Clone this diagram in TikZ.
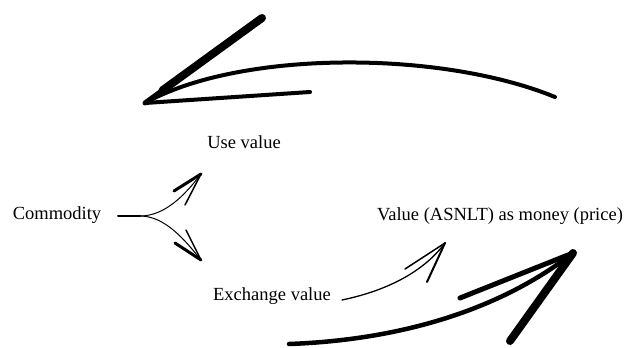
\documentclass[tikz,border=0pt]{standalone}
\usepackage{fontspec}
\setmainfont{Liberation Serif}
\usetikzlibrary{calc}
\begin{document}
\begin{tikzpicture}[x=1pt,y=-1pt,
  brush/.style={line cap=round,line join=round,draw=black},
  label/.style={font=\fontsize{18.5}{21}\selectfont,inner sep=0pt,anchor=center}]
\useasboundingbox (0,0) rectangle (630,348);

% text labels
\node[label] (com) at (57,215) {Commodity};
\node[label] (use) at (244,142) {Use value};
\node[label] (exc) at (272,296) {Exchange value};
\node[label] (val) at (500,216) {Value (ASNLT) as money (price)};

% big arrow on top, sweeping back to the left
\coordinate (topTail) at (555,97);
\coordinate (topTip) at (145,103);
\coordinate (topBarbA) at (262,18);
\coordinate (topBarbB) at (310,92);
\draw[brush,line width=4] (topTail) .. controls (440,50) and (240,50) .. (topTip);
\draw[brush,line width=8] ($(topTip)!0.15!(topBarbA)$) -- (topBarbA);
\draw[brush,line width=5] (topTip) -- ($(topTip)!0.3!(topBarbA)$);
\draw[brush,line width=4] (topTip) -- (topBarbB);

% fork from Commodity
\coordinate (forkStart) at (118,216);
\coordinate (fork) at (140,216);
\coordinate (upTip) at (201,174);
\coordinate (upBarbA) at (174,191);
\coordinate (upBarbB) at (185,205);
\coordinate (dnTip) at (201,260);
\coordinate (dnBarbA) at (175,243);
\coordinate (dnBarbB) at (186,230);
\draw[brush,line width=2] (forkStart) -- (fork);
\draw[brush,line width=1] (fork) .. controls (165,216) and (185,195) .. (upTip);
\draw[brush,line width=3] (upTip) -- (upBarbA);
\draw[brush,line width=1.5] (upTip) -- (upBarbB);
\draw[brush,line width=1] (fork) .. controls (165,216) and (185,240) .. (dnTip);
\draw[brush,line width=3] (dnTip) -- (dnBarbA);
\draw[brush,line width=1.5] (dnTip) -- (dnBarbB);

% small arrow from Exchange value
\coordinate (smTail) at (342,300);
\coordinate (smTip) at (445,243);
\coordinate (smBarbA) at (405,269);
\coordinate (smBarbB) at (427,282);
\draw[brush,line width=1.3] (smTail) .. controls (390,290) and (425,270) .. (smTip);
\draw[brush,line width=1.5] (smTip) -- (smBarbA);
\draw[brush,line width=2] (smTip) -- (smBarbB);

% big arrow at the bottom
\coordinate (bgTail) at (289,344);
\coordinate (bgTip) at (573,253);
\coordinate (bgBarbA) at (460,298);
\coordinate (bgBarbB) at (510,341);
\draw[brush,line width=4.5] (bgTail) .. controls (400,340) and (500,310) .. (bgTip);
\draw[brush,line width=5] (bgTip) -- (bgBarbA);
\draw[brush,line width=8] (bgTip) -- (bgBarbB);
\end{tikzpicture}
\end{document}
